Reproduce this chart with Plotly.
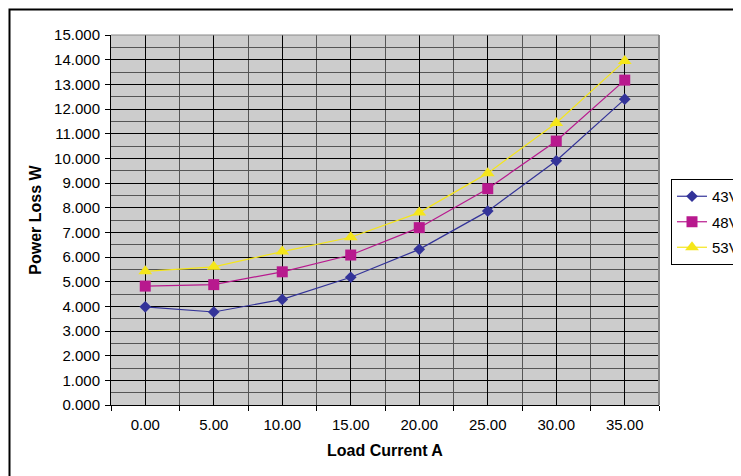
import plotly.graph_objects as go

categories = ["0.00", "5.00", "10.00", "15.00", "20.00", "25.00", "30.00", "35.00"]
series_names = ["43V", "48V", "53V"]
v43 = [3.98, 3.77, 4.28, 5.18, 6.31, 7.86, 9.90, 12.40]
v48 = [4.82, 4.88, 5.40, 6.08, 7.19, 8.77, 10.70, 13.17]
v53 = [5.42, 5.60, 6.22, 6.80, 7.80, 9.40, 11.43, 13.95]
y_ticks = list(range(0, 16))

colors = ["#333399", "#b8198e", "#f5e61a"]
symbols = ["diamond", "square", "triangle-up"]
sizes = [9, 11, 12]

xs = list(range(len(categories)))
fig = go.Figure()
for i, (name, vals, c, s, sz) in enumerate(zip(series_names, [v43, v48, v53], colors, symbols, sizes)):
    fig.add_trace(go.Scatter(
        x=xs, y=vals, name=name, mode="lines+markers", legendgroup="g%d" % i,
        line=dict(color=c, width=1.2),
        marker=dict(symbol=s, size=sz, color=c, line=dict(width=0)),
    ))

# page body has an 8px margin; the figure starts at (8, 8)
OFF = 8
W, H = 741 - OFF, 476 - OFF
L, R, T, B = 111 - OFF, 82, 35 - OFF, 71
pw, ph = W - L - R, H - T - B

def px_x(p):
    return (p - OFF - L) / pw

def px_y(p):
    return (H - B - (p - OFF)) / ph

fig.update_layout(
    width=W, height=H,
    margin=dict(l=L, r=R, t=T, b=B, autoexpand=False),
    paper_bgcolor="white",
    plot_bgcolor="#cccccc",
    font=dict(family="Liberation Sans, Arial, sans-serif", size=15, color="black"),
    showlegend=True,
    legend=dict(
        xref="container", yref="container",
        x=(671 - OFF) / W, y=1 - (179 - OFF) / H, xanchor="left", yanchor="top",
        bordercolor="black", borderwidth=1, bgcolor="white",
        font=dict(size=15), itemwidth=30, tracegroupgap=3,
    ),
    xaxis=dict(
        range=[-0.5, len(categories) - 0.5],
        tickmode="array", tickvals=xs, ticktext=categories,
        ticks="", showgrid=True, gridcolor="black", gridwidth=1,
        showline=True, linecolor="black", linewidth=1,
        zeroline=False,
        minor=dict(tick0=-0.5, dtick=1, ticks="outside", ticklen=5,
                   tickcolor="black", showgrid=True, gridcolor="#555555", gridwidth=1),
        title=dict(text="<b>Load Current A</b>", standoff=12, font=dict(size=16)),
        ticklabelstandoff=6,
    ),
    yaxis=dict(
        range=[0, 15],
        tickmode="array", tickvals=y_ticks, tickformat=".3f",
        ticks="outside", ticklen=5, tickcolor="black",
        showgrid=True, gridcolor="black", gridwidth=1,
        showline=True, linecolor="black", linewidth=1,
        zeroline=False,
        minor=dict(dtick=0.5, tick0=0, showgrid=True, gridcolor="#555555", gridwidth=1),
        title=dict(text="<b>Power Loss W</b>", standoff=8, font=dict(size=16)),
        ticklabelstandoff=2,
    ),
    shapes=[
        dict(type="rect", xref="paper", yref="paper",
             x0=px_x(9.5), x1=px_x(760), y0=px_y(500), y1=px_y(9.5),
             line=dict(color="black", width=2), fillcolor="rgba(0,0,0,0)", layer="below"),
        dict(type="line", xref="paper", yref="paper",
             x0=1, x1=1, y0=0, y1=1, line=dict(color="#888888", width=2)),
        dict(type="line", xref="paper", yref="paper",
             x0=0, x1=1, y0=1, y1=1, line=dict(color="#888888", width=1)),
    ],
)

fig.write_html("out.html")
